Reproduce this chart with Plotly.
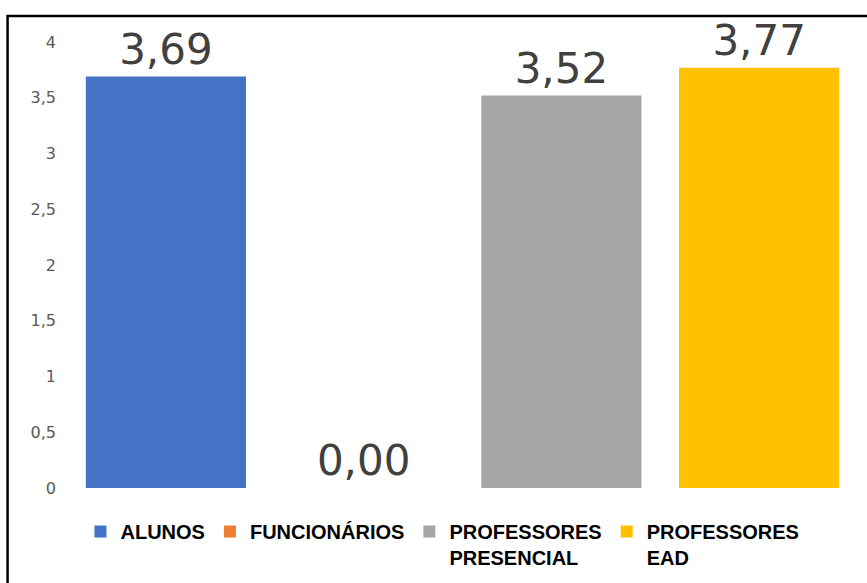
import plotly.graph_objects as go

categories = ["ALUNOS", "FUNCIONÁRIOS", "PROFESSORES<br>PRESENCIAL", "PROFESSORES<br>EAD"]
values = [3.69, 0.00, 3.52, 3.77]
colors = ["#4472C4", "#ED7D31", "#A5A5A5", "#FFC000"]
y_ticks = [0, 0.5, 1, 1.5, 2, 2.5, 3, 3.5, 4]

fig = go.Figure()
for cat, v, c in zip(categories, values, colors):
    fig.add_trace(go.Bar(
        x=[cat], y=[v], name=cat,
        marker=dict(color=c, line=dict(width=0)),
        width=0.81,
        text=[f"{v:.2f}".replace(".", ",")],
        textposition="outside",
        textfont=dict(family="DejaVu Sans", size=42, color="#404040"),
        cliponaxis=False,
    ))

W, H = 867, 583
l, r, t, b = 66.5, 8.5, 42, 95
pw, ph = W - l - r, H - t - b

def px_to_paper_x(px):
    return (px - l) / pw

def px_to_paper_y(py):
    return (H - b - py) / ph

fig.update_layout(
    width=W, height=H,
    margin=dict(l=l, r=r, t=t, b=b, pad=0, autoexpand=False),
    paper_bgcolor="white", plot_bgcolor="white",
    separators=", ",
    barmode="overlay",
    showlegend=True,
    legend=dict(
        orientation="h", x=px_to_paper_x(80), xanchor="left",
        y=px_to_paper_y(512), yanchor="top", valign="top",
        font=dict(family="Liberation Sans, Arial", size=20, color="#000000", weight="bold"),
        itemwidth=30, traceorder="normal",
    ),
    xaxis=dict(showticklabels=False, showgrid=False, zeroline=False, showline=False,
               categoryorder="array", categoryarray=categories),
    yaxis=dict(range=[0, 4], tickvals=y_ticks, showgrid=False, zeroline=False, showline=False,
               tickfont=dict(family="DejaVu Sans", size=16, color="#595959"),
               ticks="", ticklabelstandoff=10),
    shapes=[dict(type="rect", xref="paper", yref="paper",
                 x0=px_to_paper_x(7), x1=px_to_paper_x(875),
                 y0=px_to_paper_y(600), y1=px_to_paper_y(16),
                 line=dict(color="black", width=2.5), fillcolor="rgba(0,0,0,0)", layer="above")],
)

fig.write_html("out.html", config={"displayModeBar": False},
               post_script="document.body.style.margin='0';document.body.style.overflow='hidden';")
